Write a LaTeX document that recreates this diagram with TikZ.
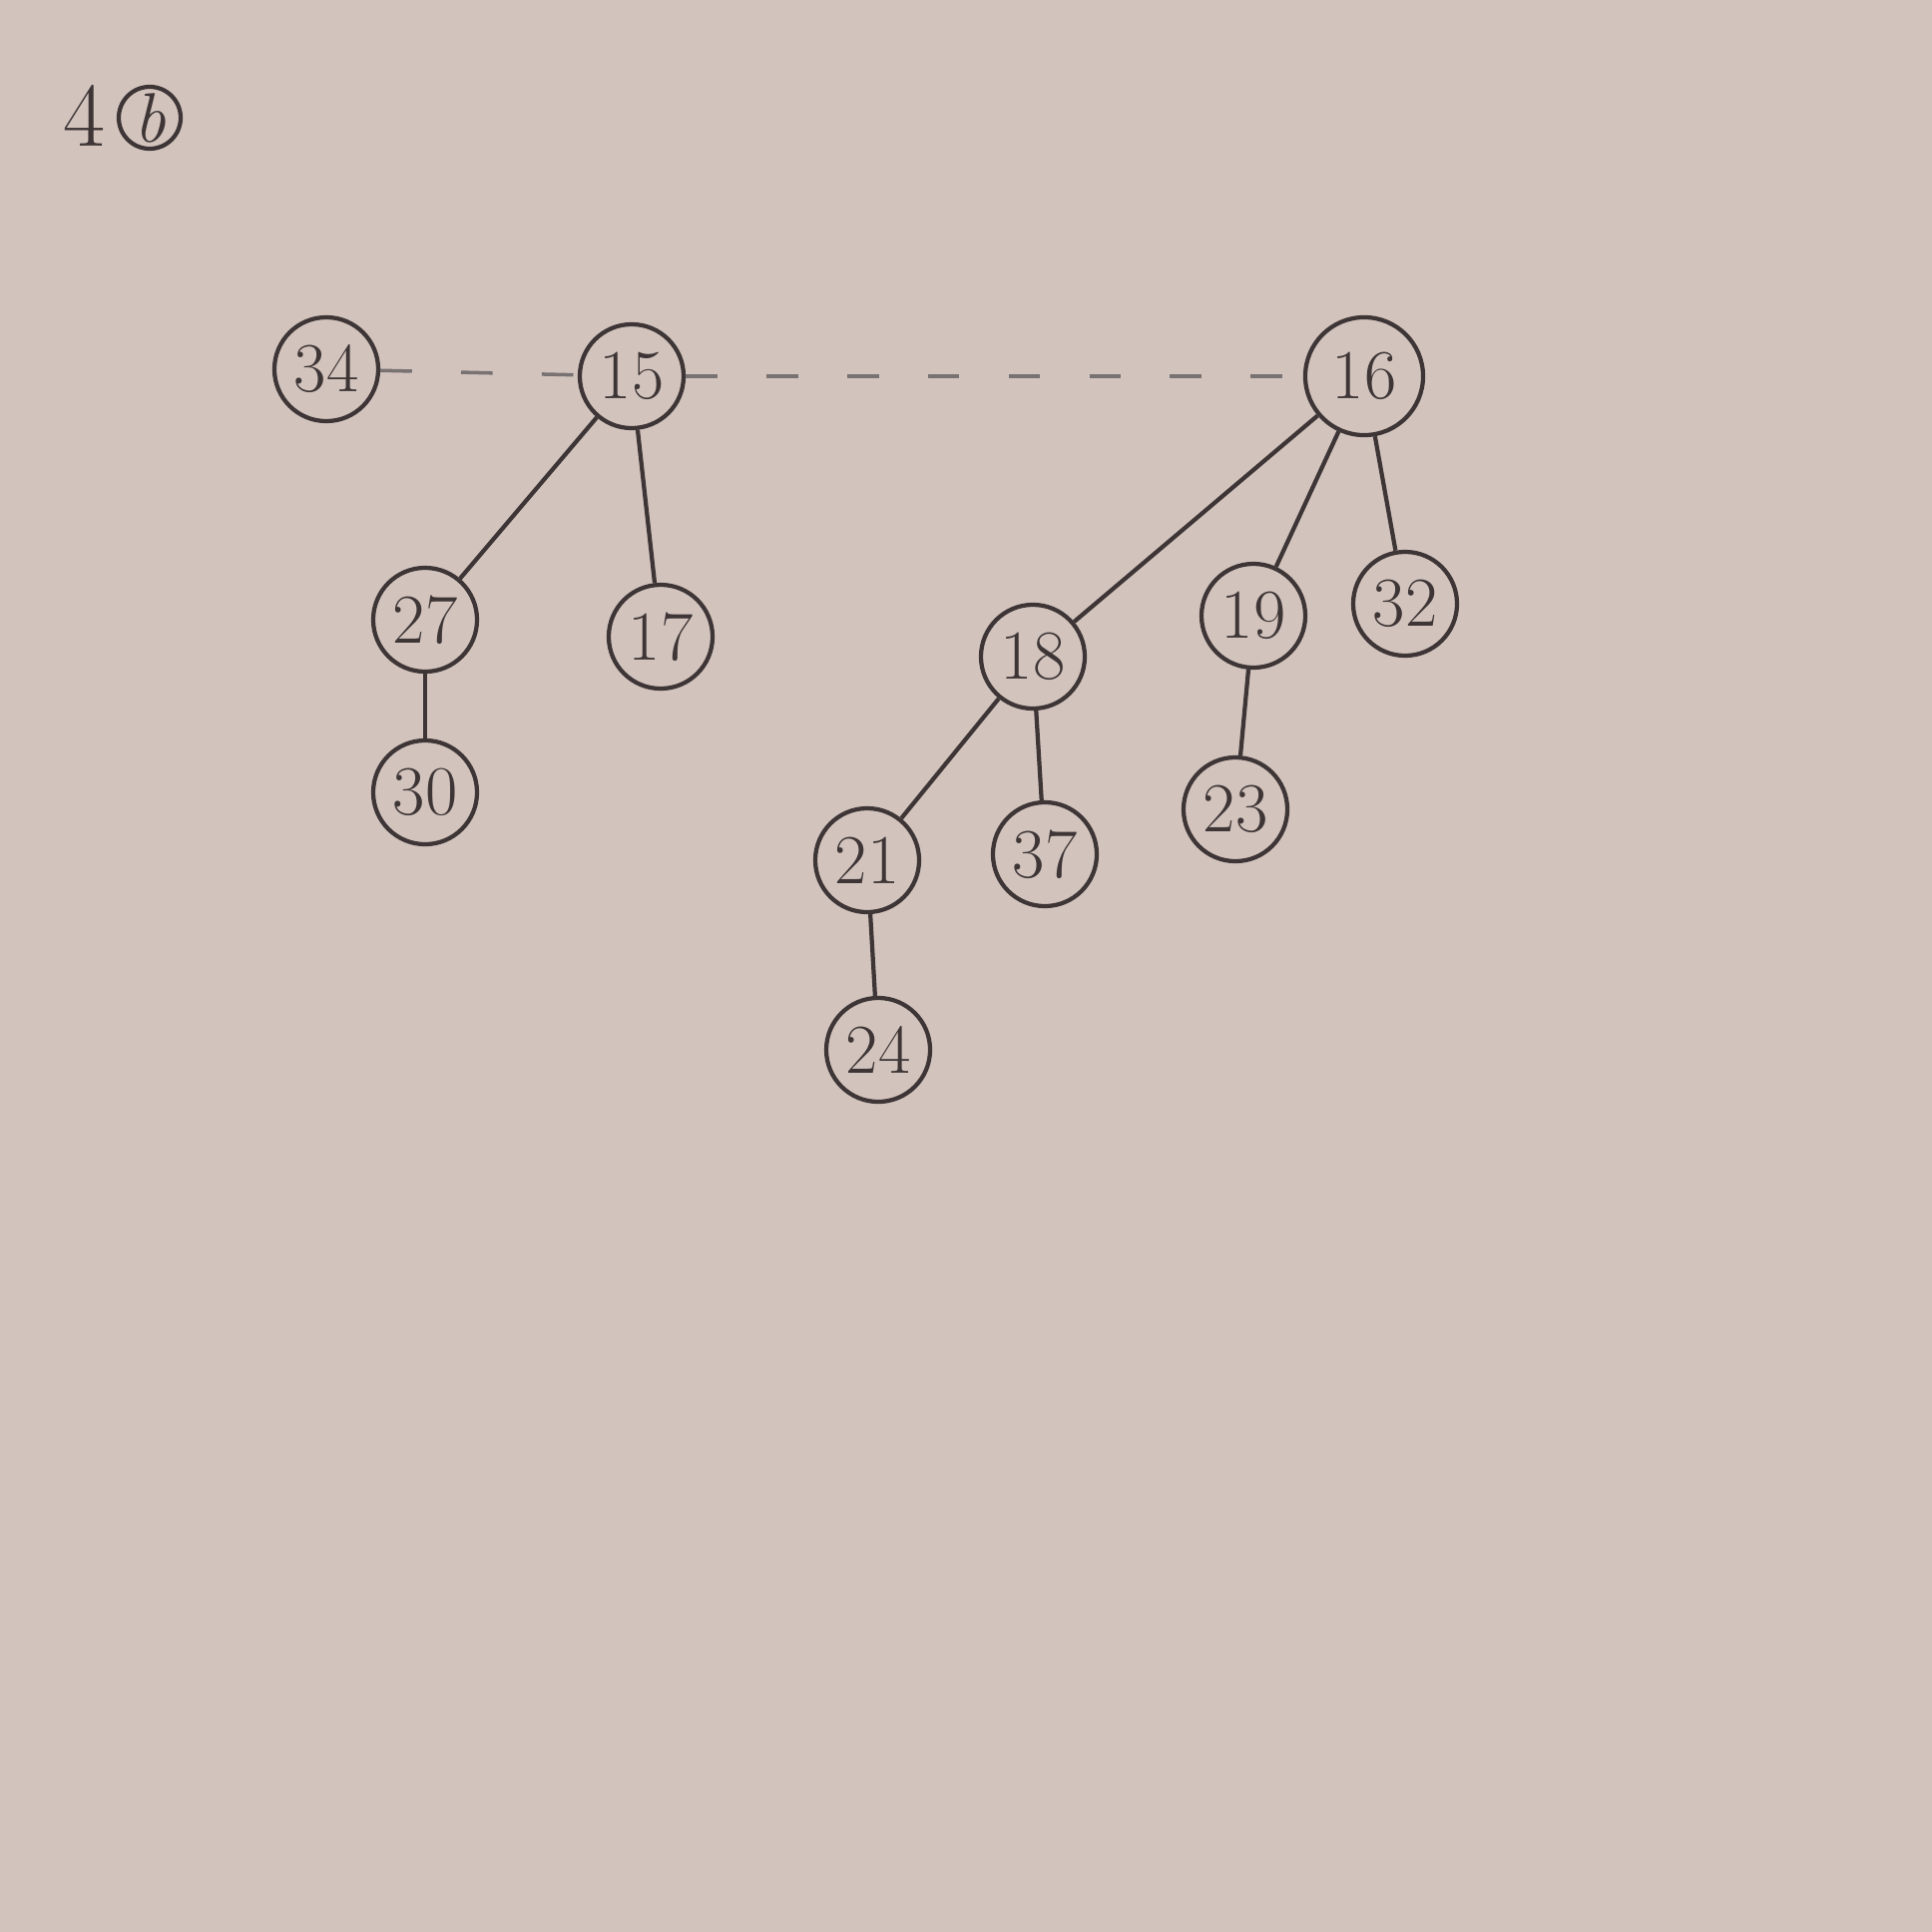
\documentclass[tikz,border=0pt]{standalone}
\usepackage{tikz}
\newdimen\unitsize
\setlength{\unitsize}{0.01cm}
\definecolor{paper}{RGB}{210,195,189}
\definecolor{pencil}{RGB}{62,54,54}
\tikzset{
  heapnode/.style={circle,draw=pencil,line width=1.2pt,text=pencil,inner sep=0pt,minimum size=1.04cm,font=\fontsize{20}{24}\selectfont},
  heapedge/.style={draw=pencil,line width=1.2pt},
  rootlink/.style={draw=pencil!70,line width=1pt,dash pattern=on 9pt off 14pt}
}
\begin{document}
\begin{tikzpicture}[x=\unitsize,y=-\unitsize]
\fill[paper] (0,0) rectangle (1936,1936);
\useasboundingbox (0,0) rectangle (1936,1936);
% exercise number
\node[text=pencil,font=\fontsize{26}{30}\selectfont] (exno) at (84,116) {4};
\node[circle,draw=pencil,line width=1.2pt,text=pencil,inner sep=0pt,minimum size=0.62cm,font=\fontsize{20}{24}\selectfont\itshape] (exletter) at (150,118) {b};
% roots
\foreach \key/\px/\py in {34/327/370,15/633/377}{
  \node[heapnode] (n\key) at (\px,\py) {\key};
}
\node[heapnode,minimum size=1.18cm] (n16) at (1367,377) {16};
% children
\foreach \key/\px/\py in {27/426/621,17/662/638,30/426/794,18/1035/658,19/1256/617,32/1408/605,21/869/862,37/1047/856,23/1238/811,24/880/1052}{
  \node[heapnode] (n\key) at (\px,\py) {\key};
}
\draw[rootlink] (n34) -- (n15);
\draw[rootlink] (n15) -- (n16);
\foreach \top/\bot in {15/27,15/17,27/30,16/18,16/19,16/32,18/21,18/37,19/23,21/24}{
  \draw[heapedge] (n\top) -- (n\bot);
}
\end{tikzpicture}
\end{document}
